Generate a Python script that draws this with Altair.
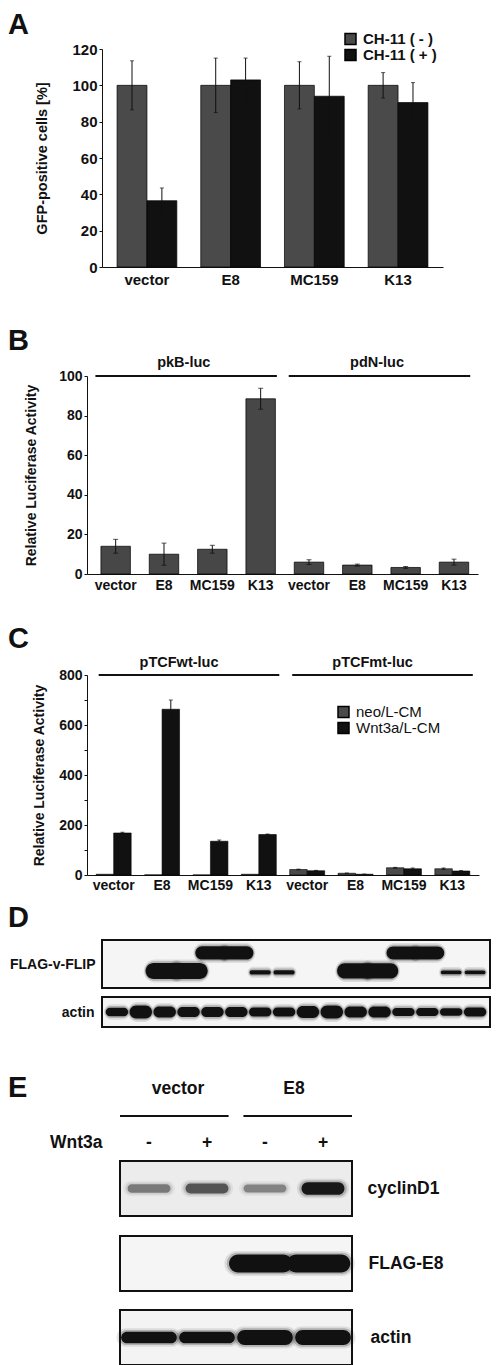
import altair as alt
import pandas as pd

FONT = "Liberation Sans"
INK = "#111111"
GREY = "#4a4a4a"

# ---------------- data ----------------
# Panel A
a_groups = ["vector", "E8", "MC159", "K13"]
a_conditions = ["CH-11 ( - )", "CH-11 ( + )"]
a_minus = [100, 100, 100, 100]
a_minus_err = [13.5, 15, 13, 7]
a_plus = [36.5, 103, 94, 90.5]
a_plus_err = [7, 12, 22, 11]

# Panel B
b_reporters = ["pkB-luc", "pdN-luc"]
b_groups = ["vector", "E8", "MC159", "K13"]
b_pkb = [14, 10, 12.5, 88.5]
b_pkb_err = [3.5, 5.6, 2, 5.3]
b_pdn = [6, 4.5, 3.3, 6]
b_pdn_err = [1.2, 0.5, 0.5, 1.5]

# Panel C
c_reporters = ["pTCFwt-luc", "pTCFmt-luc"]
c_groups = ["vector", "E8", "MC159", "K13"]
c_media = ["neo/L-CM", "Wnt3a/L-CM"]
c_wt_neo = [3, 0.5, 0.5, 3]
c_wt_neo_err = [0, 0, 0, 0]
c_wt_wnt = [168, 663, 135, 162]
c_wt_wnt_err = [3, 37, 5, 2]
c_mt_neo = [22, 7, 29, 25]
c_mt_neo_err = [1.5, 0.5, 1.5, 3]
c_mt_wnt = [17, 3, 25, 16]
c_mt_wnt_err = [1.5, 0.5, 3, 1.5]

# Panel D (western blot, 2 lanes per sample)
d_samples = ["vector", "E8", "MC159", "K13", "vector", "E8", "MC159", "K13"]
d_flag_signal = [0, 1.0, 0.8, 0.15, 0, 0.95, 0.78, 0.13]
d_proteins = ["E8", "MC159", "K13"]
d_protein_kda = [21.1, 28.6, 20.5]
d_actin_signal = [0.55, 1.0, 0.8, 0.7, 0.7, 0.7, 0.6, 0.6,
                  0.9, 1.0, 0.8, 0.8, 0.5, 0.5, 0.45, 0.6]

# Panel E (western blot)
e_groups = ["vector", "E8"]
e_wnt3a = ["-", "+", "-", "+"]
e_cyclin_signal = [0.35, 0.55, 0.3, 0.95]
e_flag_signal = [0, 0, 1.0, 1.0]
e_actin_signal = [0.7, 0.7, 1.0, 1.0]


# ---------------- helpers ----------------
def letter(ch, y, size=29):
    return alt.Chart(pd.DataFrame({"panel": [ch]})).mark_text(
        align="left", baseline="alphabetic", fontSize=size, fontWeight="bold",
        font=FONT, color=INK
    ).encode(x=alt.value(-79), y=alt.value(y), text="panel:N")


def error_layers(base, x, ys, yaxis, xo=None, cap=4):
    enc = {"x": x}
    if xo is not None:
        enc["xOffset"] = xo
    b = base.transform_filter("datum.err > 0")
    rule = b.mark_rule(color=INK, strokeWidth=1).encode(
        y=alt.Y("lo:Q", scale=ys, axis=yaxis), y2="hi:Q", **enc)
    top = b.mark_tick(color=INK, thickness=1, size=cap, orient="horizontal").encode(
        y=alt.Y("hi:Q", scale=ys, axis=yaxis), **enc)
    bot = b.mark_tick(color=INK, thickness=1, size=cap, orient="horizontal").encode(
        y=alt.Y("lo:Q", scale=ys, axis=yaxis), **enc)
    return [rule, top, bot]


def group_annotations(reporters, groups, ymax, xs, xaxis, ys, yaxis,
                      xoff, x2off, dx, dy, size):
    df = pd.DataFrame({
        "reporter": reporters,
        "first": [r + "|" + groups[0] for r in reporters],
        "last": [r + "|" + groups[-1] for r in reporters],
        "mid": [r + "|" + groups[len(groups) // 2 - 1] for r in reporters],
    })
    line = alt.Chart(df).mark_rule(color=INK, strokeWidth=2, xOffset=xoff, x2Offset=x2off).encode(
        x=alt.X("first:N", scale=xs, axis=xaxis, bandPosition=0),
        x2=alt.X2("last:N", bandPosition=1),
        y=alt.YDatum(ymax, scale=ys, axis=yaxis))
    text = alt.Chart(df).mark_text(
        fontSize=size, fontWeight="bold", font=FONT, color=INK,
        baseline="alphabetic", dx=dx, dy=dy
    ).encode(
        x=alt.X("mid:N", scale=xs, axis=xaxis, bandPosition=1),
        y=alt.YDatum(ymax, scale=ys, axis=yaxis),
        text="reporter:N")
    return [line, text]


def spacer(h):
    return alt.Chart(pd.DataFrame({"s": [0]})).mark_point(opacity=0).encode(
        x=alt.value(0), y=alt.value(0)).properties(width=10, height=h)


def blot(lanes_df, n_lanes, width, height, x_range, frame_pad, y_domain,
         thick_px, ext_lo, ext_hi, alpha_expr, center_expr,
         label, side, label_offset, label_size, fill):
    xs = alt.Scale(domain=[0, n_lanes], range=x_range, nice=False, zero=False)
    ys = alt.Scale(domain=y_domain, nice=False, zero=False)
    upp = (y_domain[1] - y_domain[0]) / height  # data units per pixel
    axis = alt.Axis(title=label, orient=side, titleAngle=0,
                    titleAlign=("right" if side == "left" else "left"),
                    titleBaseline="middle", titleFontSize=label_size,
                    titlePadding=0, offset=label_offset, domain=False,
                    ticks=False, labels=False, grid=False, minExtent=0, maxExtent=0)
    frame = alt.Chart(lanes_df).transform_aggregate(
        lo="min(lane)", hi="max(lane)"
    ).transform_calculate(hi1="datum.hi + 1").mark_rect(
        fill=fill, stroke=INK, strokeWidth=2, xOffset=-frame_pad, x2Offset=frame_pad
    ).encode(
        x=alt.X("lo:Q", scale=xs, axis=None), x2="hi1:Q",
        y=alt.YDatum(y_domain[0], scale=ys, axis=axis),
        y2=alt.Y2Datum(y_domain[1]))
    layers = [frame]
    # soft halo layers then the dense core of each band
    for grow_px, grow_lane, alpha_mul in [(7, 0.08, 0.10), (3.5, 0.04, 0.22), (0, 0.0, 1.0)]:
        band = alt.Chart(lanes_df).transform_filter("datum.intensity > 0").transform_calculate(
            t=f"({thick_px}) + {grow_px}",
            c=center_expr,
            x1=f"datum.lane - ({ext_lo}) - {grow_lane}",
            x2=f"datum.lane + 1 + ({ext_hi}) + {grow_lane}",
            y1=f"datum.c - datum.t * {upp} / 2",
            y2=f"datum.c + datum.t * {upp} / 2",
            a=f"({alpha_expr}) * {alpha_mul}",
        ).mark_rect(color=INK, cornerRadius=40).encode(
            x=alt.X("x1:Q", scale=xs, axis=None), x2="x2:Q",
            y=alt.Y("y1:Q", scale=ys, axis=axis), y2="y2:Q",
            opacity=alt.Opacity("a:Q", scale=None, legend=None))
        layers.append(band)
    return alt.layer(*layers).properties(width=width, height=height)


# ---------------- Panel A ----------------
a_df = pd.DataFrame({
    "group": a_groups * 2,
    "ch11": [a_conditions[0]] * 4 + [a_conditions[1]] * 4,
    "value": a_minus + a_plus,
    "err": a_minus_err + a_plus_err,
})
A_W, A_H = 356, 218
a_xs = alt.Scale(domain=a_groups, range=[15, A_W], paddingInner=0.286, paddingOuter=0.18)
a_xaxis = alt.Axis(title=None, labelAngle=0, ticks=False, labelPadding=5, labelFontSize=15)
a_ys = alt.Scale(domain=[0, 120], nice=False)
a_yaxis = alt.Axis(title="GFP-positive cells [%]", values=list(range(0, 121, 20)), offset=-15,
                   tickSize=3, labelPadding=2, labelFontSize=15, titleFontSize=14.5, titlePadding=22)
a_x = alt.X("group:N", scale=a_xs, axis=a_xaxis)
a_xo = alt.XOffset("ch11:N", scale=alt.Scale(domain=a_conditions, paddingInner=0, paddingOuter=0))
a_base = alt.Chart(a_df).transform_calculate(lo="datum.value - datum.err", hi="datum.value + datum.err")
a_bars = a_base.mark_bar(stroke="#000", strokeWidth=0.7).encode(
    x=a_x, xOffset=a_xo,
    y=alt.Y("value:Q", scale=a_ys, axis=a_yaxis),
    color=alt.Color("ch11:N",
                    scale=alt.Scale(domain=a_conditions, range=[GREY, INK]),
                    legend=alt.Legend(title=None, orient="none", legendX=256, legendY=-17.5,
                                      symbolType="square", symbolSize=121, labelFontSize=15,
                                      labelFontWeight="bold", labelOffset=5, rowPadding=-1,
                                      padding=0)))
A = alt.layer(a_bars, *error_layers(a_base, a_x, a_ys, a_yaxis, a_xo),
              letter("A", -15)).properties(width=A_W, height=A_H)

# ---------------- Panel B ----------------
b_df = pd.DataFrame({
    "reporter": [b_reporters[0]] * 4 + [b_reporters[1]] * 4,
    "group": b_groups * 2,
    "value": b_pkb + b_pdn,
    "err": b_pkb_err + b_pdn_err,
})
b_df["bar"] = b_df["reporter"] + "|" + b_df["group"]
B_W, B_H = 391, 198
b_xs = alt.Scale(domain=list(b_df["bar"]), paddingInner=0.39, paddingOuter=0.24, align=0.6)
b_xaxis = alt.Axis(title=None, labelAngle=0, ticks=False, labelPadding=4, labelFontSize=14,
                   labelExpr="split(datum.label, '|')[1]")
b_ys = alt.Scale(domain=[0, 100], nice=False)
b_yaxis = alt.Axis(title="Relative Luciferase Activity", values=list(range(0, 101, 20)),
                   tickSize=3, labelPadding=2, labelFontSize=14, titleFontSize=14, titlePadding=20)
b_x = alt.X("bar:N", scale=b_xs, axis=b_xaxis)
b_base = alt.Chart(b_df).transform_calculate(lo="datum.value - datum.err", hi="datum.value + datum.err")
b_bars = b_base.mark_bar(color="#474747", stroke="#000", strokeWidth=0.7).encode(
    x=b_x, y=alt.Y("value:Q", scale=b_ys, axis=b_yaxis))
B = alt.layer(
    b_bars,
    *error_layers(b_base, b_x, b_ys, b_yaxis, cap=5),
    *group_annotations(b_reporters, b_groups, 100, b_xs, b_xaxis, b_ys, b_yaxis,
                       -5.5, 1.5, 5, -9, 14.5),
    letter("B", -26),
).properties(width=B_W, height=B_H)

# ---------------- Panel C ----------------
c_rows = []
for rep, neo, neo_e, wnt, wnt_e in [
    (c_reporters[0], c_wt_neo, c_wt_neo_err, c_wt_wnt, c_wt_wnt_err),
    (c_reporters[1], c_mt_neo, c_mt_neo_err, c_mt_wnt, c_mt_wnt_err),
]:
    for i, g in enumerate(c_groups):
        c_rows.append({"bar": rep + "|" + g, "medium": c_media[0], "value": neo[i], "err": neo_e[i]})
        c_rows.append({"bar": rep + "|" + g, "medium": c_media[1], "value": wnt[i], "err": wnt_e[i]})
c_df = pd.DataFrame(c_rows)
C_W, C_H = 392, 200
c_xs = alt.Scale(domain=[r + "|" + g for r in c_reporters for g in c_groups],
                 paddingInner=0.277, paddingOuter=0.19)
c_xaxis = alt.Axis(title=None, labelAngle=0, ticks=False, labelPadding=3.5, labelFontSize=14,
                   labelExpr="split(datum.label, '|')[1]")
c_ys = alt.Scale(domain=[0, 800], nice=False)
c_yaxis = alt.Axis(title="Relative Luciferase Activity", values=list(range(0, 801, 100)),
                   labelExpr="datum.value % 200 === 0 ? datum.label : ''",
                   tickSize=3, labelPadding=2, labelFontSize=14, titleFontSize=14, titlePadding=12)
c_x = alt.X("bar:N", scale=c_xs, axis=c_xaxis)
c_xo = alt.XOffset("medium:N", scale=alt.Scale(domain=c_media, paddingInner=0, paddingOuter=0))
c_base = alt.Chart(c_df).transform_calculate(lo="datum.value - datum.err", hi="datum.value + datum.err")
c_bars = c_base.mark_bar(stroke="#000", strokeWidth=0.6).encode(
    x=c_x, xOffset=c_xo,
    y=alt.Y("value:Q", scale=c_ys, axis=c_yaxis),
    color=alt.Color("medium:N",
                    scale=alt.Scale(domain=c_media, range=[GREY, INK]),
                    legend=alt.Legend(title=None, orient="none", legendX=249, legendY=29.5,
                                      symbolType="square", symbolSize=121, labelFontSize=15,
                                      labelFontWeight="normal", labelOffset=5, rowPadding=-1,
                                      padding=0)))
C = alt.layer(
    c_bars,
    *error_layers(c_base, c_x, c_ys, c_yaxis, c_xo, cap=4),
    *group_annotations(c_reporters, c_groups, 800, c_xs, c_xaxis, c_ys, c_yaxis,
                       2.5, 3, -0.5, -8, 14.5),
    letter("C", -27),
).properties(width=C_W, height=C_H)

# ---------------- Panel D ----------------
d_lanes = list(range(16))
d_kda = dict(zip(d_proteins, d_protein_kda))
d1_df = pd.DataFrame({
    "lane": d_lanes,
    "sample": [d_samples[i // 2] for i in d_lanes],
    "intensity": [d_flag_signal[i // 2] for i in d_lanes],
})
d1_df["kda"] = d1_df["sample"].map(d_kda).fillna(0)
d2_df = pd.DataFrame({"lane": d_lanes, "intensity": d_actin_signal})

D1 = blot(d1_df, 16, 403, 48, [18, 400], 3, [14, 34],
          "2 + 14 * datum.intensity", "-0.12 + 0.42 * datum.intensity",
          "-0.12 + 0.42 * datum.intensity", "1", "datum.kda",
          "FLAG-v-FLIP", "left", -8, 14, "#f5f5f5")
D1 = alt.layer(D1, letter("D", -13))
D2 = blot(d2_df, 16, 403, 30, [18, 400], 3, [0, 1],
          "3 + 10 * datum.intensity", "-0.03", "-0.03", "1", "0.5",
          "actin", "left", -7, 14, "#f5f5f5")

# ---------------- Panel E ----------------
e_lanes = list(range(4))
eh_rows = ["group", "line", "Wnt3a"]
eh_ys = alt.Scale(domain=eh_rows, paddingInner=0, paddingOuter=0)
eh_yaxis = alt.Axis(title=None, ticks=False, domain=False, labelPadding=0, offset=-15,
                    labelFontSize=17.5, labelExpr="datum.value == 'Wnt3a' ? datum.value : ''")
eh_gx = alt.Scale(domain=e_groups, range=[33, 265], paddingInner=0.12, paddingOuter=0)
eh_gdf = pd.DataFrame({"group": e_groups})
eh_text = alt.Chart(eh_gdf).mark_text(fontSize=17.5, fontWeight="bold", font=FONT, color=INK,
                                      baseline="middle").encode(
    x=alt.X("group:N", scale=eh_gx, axis=None),
    y=alt.YDatum("group", type="nominal", scale=eh_ys, axis=eh_yaxis),
    text="group:N")
eh_line = alt.Chart(eh_gdf).mark_rule(color=INK, strokeWidth=2).encode(
    x=alt.X("group:N", scale=eh_gx, axis=None, bandPosition=0),
    x2=alt.X2("group:N", bandPosition=1),
    y=alt.YDatum("line", type="nominal", scale=eh_ys, axis=eh_yaxis))
eh_sdf = pd.DataFrame({"lane": e_lanes, "sign": e_wnt3a})
eh_sign = alt.Chart(eh_sdf).transform_calculate(xc="datum.lane + 0.5").mark_text(
    fontSize=17.5, fontWeight="bold", font=FONT, color=INK, baseline="middle").encode(
    x=alt.X("xc:Q", scale=alt.Scale(domain=[0, 4], range=[33, 265], nice=False, zero=False), axis=None),
    y=alt.YDatum("Wnt3a", type="nominal", scale=eh_ys, axis=eh_yaxis),
    text="sign:N")
EH = alt.layer(eh_line, eh_text, eh_sign, letter("E", 21)).resolve_scale(
    x="independent").properties(width=265, height=80)

e1_df = pd.DataFrame({"lane": e_lanes, "intensity": e_cyclin_signal})
e2_df = pd.DataFrame({"lane": e_lanes, "intensity": e_flag_signal})
e3_df = pd.DataFrame({"lane": e_lanes, "intensity": e_actin_signal})
E1 = blot(e1_df, 4, 265, 55, [33, 265], 0, [0, 1],
          "6 + 7 * datum.intensity", "-0.13", "-0.13", "0.15 + 0.85 * datum.intensity", "0.5",
          "cyclinD1", "right", 15, 17.5, "#ececec")
E2 = blot(e2_df, 4, 265, 55, [33, 265], 0, [0, 1],
          "18 * datum.intensity", "0.12", "-0.03", "1", "0.5",
          "FLAG-E8", "right", 16, 17.5, "#f5f5f5")
E3 = blot(e3_df, 4, 265, 55, [33, 265], 0, [0, 1],
          "4 + 11 * datum.intensity", "-0.02", "-0.02", "1", "0.5",
          "actin", "right", 18, 17.5, "#f3f3f3")

# ---------------- assemble ----------------
chart = alt.vconcat(
    A, spacer(109), B, spacer(101), C, spacer(65), D1, spacer(9), D2,
    spacer(49), EH, spacer(5), E1, spacer(20), E2, spacer(19), E3,
    spacing=0, bounds="flush",
    padding={"left": 0, "top": 3, "right": 0, "bottom": 0},
).resolve_scale(
    x="independent", y="independent", color="independent", xOffset="independent"
).configure_view(stroke=None).configure_axis(
    labelFont=FONT, titleFont=FONT, labelFontWeight="bold", titleFontWeight="bold",
    labelColor=INK, titleColor=INK, domainColor=INK, tickColor=INK, domainWidth=1,
    grid=False
).configure_legend(labelFont=FONT, labelColor=INK).configure_text(font=FONT)

chart.save("out.html", embed_options={"renderer": "svg", "actions": False})
